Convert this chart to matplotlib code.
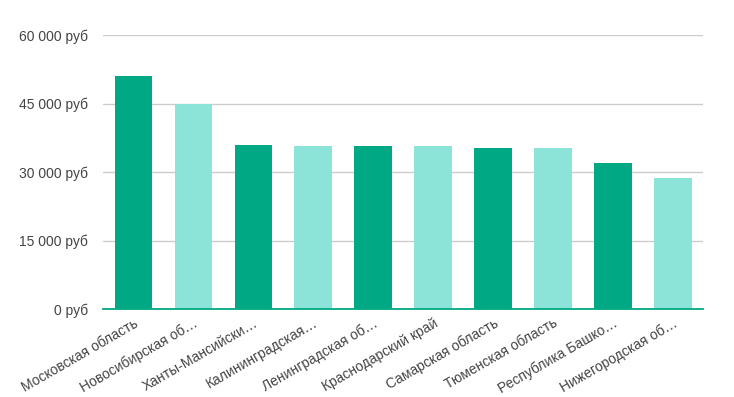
import matplotlib
matplotlib.use("Agg")
import matplotlib.pyplot as plt
from matplotlib.ticker import FuncFormatter

regions = [
    "Московская область",
    "Новосибирская об…",
    "Ханты-Мансийски…",
    "Калининградская…",
    "Ленинградская об…",
    "Краснодарский край",
    "Самарская область",
    "Тюменская область",
    "Республика Башко…",
    "Нижегородская об…",
]
salaries = [51000, 45000, 36000, 35800, 35800, 35600, 35200, 35200, 32000, 28800]
y_ticks = [0, 15000, 30000, 45000, 60000]

dark = "#00a884"
light = "#8ce3d8"
colors = [dark if i % 2 == 0 else light for i in range(len(regions))]

plt.rcParams["font.family"] = ["Liberation Sans", "DejaVu Sans"]

fig = plt.figure(figsize=(7.34, 3.97), dpi=100)
ax = fig.add_axes([0.141, 0.221, 0.817, 0.691])

x = range(len(regions))
ax.bar(x, salaries, width=0.63, color=colors, zorder=2)

ax.set_xlim(-0.5, len(regions) - 0.5)
ax.set_ylim(0, 60000)
ax.set_yticks(y_ticks)
ax.yaxis.set_major_formatter(
    FuncFormatter(lambda v, _: f"{int(v):,} руб".replace(",", " "))
)
ax.grid(axis="y", color="#cccccc", linewidth=1, zorder=0)

for side in ["top", "right", "left"]:
    ax.spines[side].set_visible(False)
ax.spines["bottom"].set_color(dark)
ax.spines["bottom"].set_linewidth(1.3)
ax.spines["bottom"].set_zorder(3)

ax.tick_params(axis="y", length=0, pad=11, labelsize=10, labelcolor="#444444")
ax.tick_params(axis="x", length=0, pad=5, labelsize=10, labelcolor="#444444")
ax.set_xticks(list(x))
ax.set_xticklabels(regions, rotation=30, ha="right", va="top", rotation_mode="anchor")

fig.savefig("out.png", dpi=100)
